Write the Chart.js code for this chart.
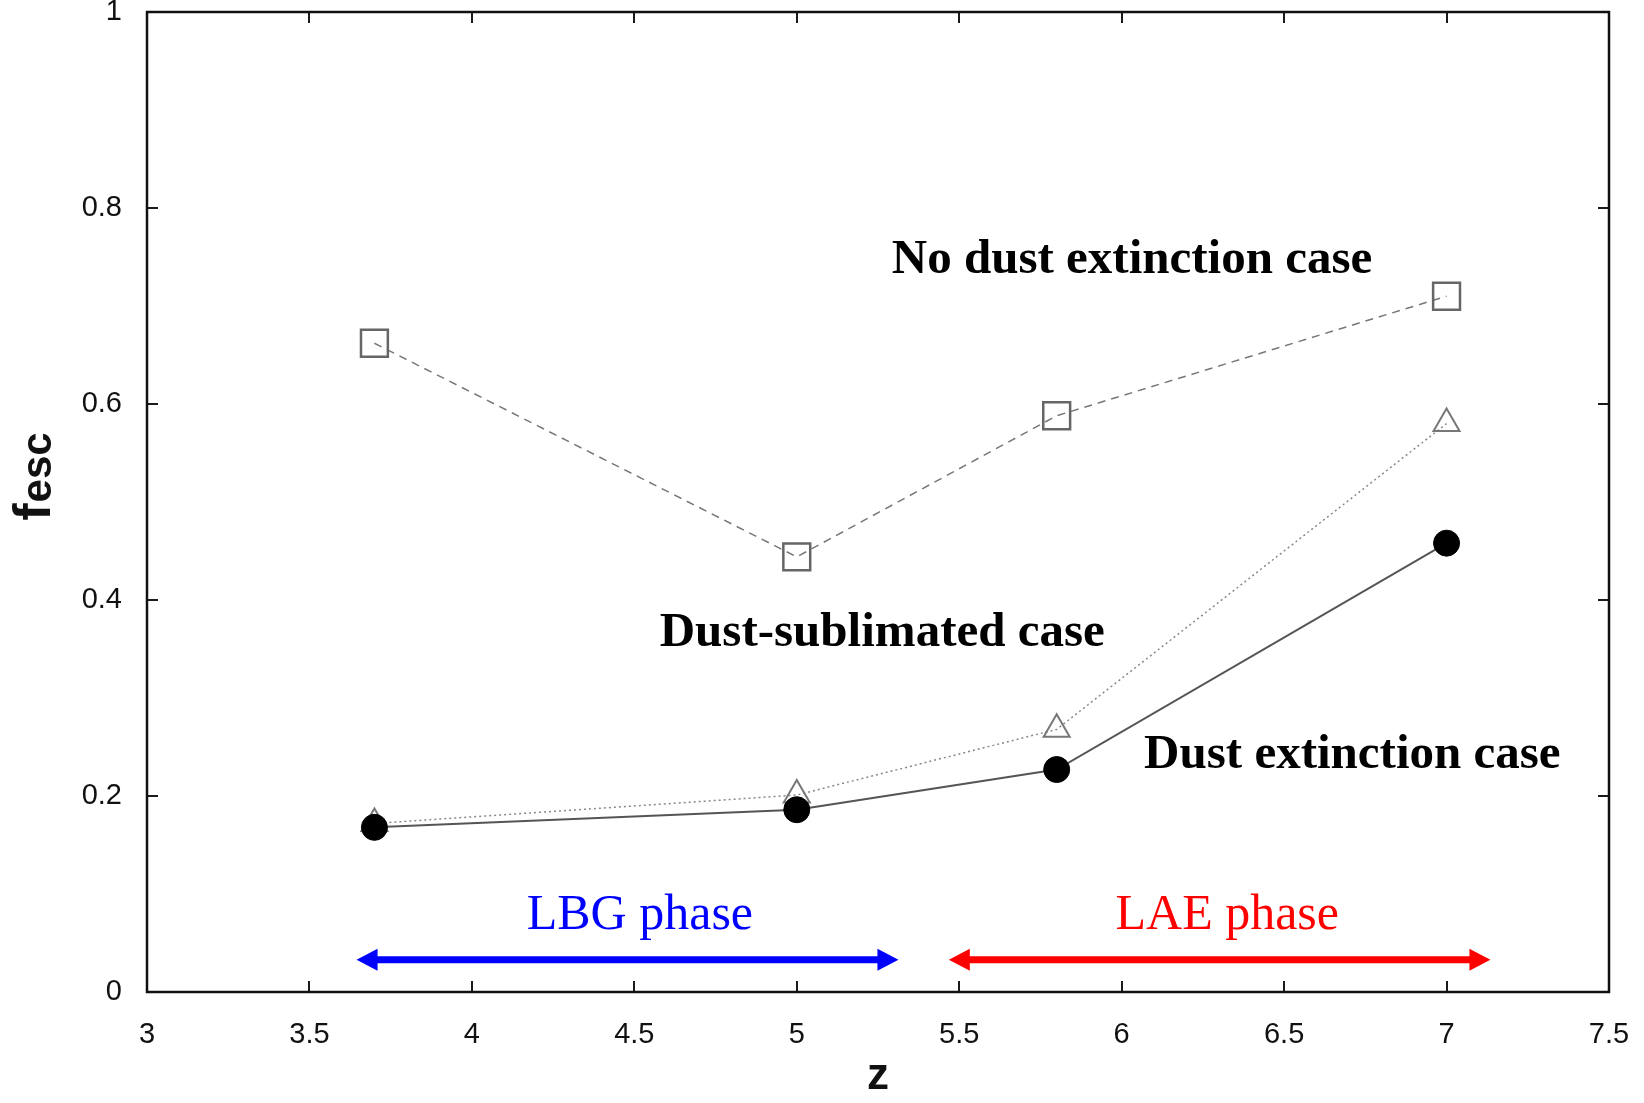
<!DOCTYPE html>
<html>
<head>
<meta charset="utf-8">
<script src="https://cdn.jsdelivr.net/npm/chart.js@4"></script>
<style>
  body { margin: 0; background: #fff; }
  canvas { display: block; }
</style>
</head>
<body>
<canvas id="fescChart" width="1644" height="1103"></canvas>
<script>
// redshift of each snapshot
var zValues = [3.7, 5.0, 5.8, 7.0];
// escape fraction per case
var noDustCase = [0.662, 0.444, 0.588, 0.710];
var sublimatedCase = [0.172, 0.201, 0.268, 0.580];
var dustExtCase = [0.168, 0.186, 0.227, 0.458];

var xTicks = [3, 3.5, 4, 4.5, 5, 5.5, 6, 6.5, 7, 7.5];
var yTicks = [0, 0.2, 0.4, 0.6, 0.8, 1];

// phase arrows (z range)
var phaseNames = ['LBG phase', 'LAE phase'];
var phaseStart = [3.645, 5.468];
var phaseEnd = [5.313, 7.135];

function toPoints(ys) {
    return zValues.map(function(z, i) {
        return { x: z, y: ys[i] };
    });
}

var labelNotes = [
    { text: 'No dust extinction case', x: 6.032, y: 0.734 },
    { text: 'Dust-sublimated case', x: 5.263, y: 0.353 },
    { text: 'Dust extinction case', x: 6.71, y: 0.229 }
];
var phaseLabelX = [4.517, 6.325];
var phaseColors = ['#0000ff', '#ff0000'];

var framePlugin = {
    id: 'frame',
    afterDatasetsDraw: function(chart) {
        var c = chart.ctx, a = chart.chartArea;
        var xs = chart.scales.x, ys = chart.scales.y;
        c.save();
        c.strokeStyle = '#1a1a1a';
        c.lineWidth = 2;
        var tl = 11;
        xTicks.forEach(function(v) {
            var px = Math.round(xs.getPixelForValue(v));
            c.beginPath();
            c.moveTo(px, a.bottom); c.lineTo(px, a.bottom - tl);
            c.moveTo(px, a.top); c.lineTo(px, a.top + tl);
            c.stroke();
        });
        yTicks.forEach(function(v) {
            var py = Math.round(ys.getPixelForValue(v));
            c.beginPath();
            c.moveTo(a.left, py); c.lineTo(a.left + tl, py);
            c.moveTo(a.right, py); c.lineTo(a.right - tl, py);
            c.stroke();
        });
        c.lineWidth = 2.5;
        c.strokeStyle = '#111';
        c.strokeRect(a.left, a.top, a.right - a.left, a.bottom - a.top);

        // annotations
        c.textAlign = 'center';
        c.textBaseline = 'alphabetic';
        c.fillStyle = '#000';
        c.font = 'bold 49px "Liberation Serif"';
        labelNotes.forEach(function(n) {
            c.fillText(n.text, xs.getPixelForValue(n.x), ys.getPixelForValue(n.y));
        });

        // phase arrows
        var ay = ys.getPixelForValue(0.033);
        phaseNames.forEach(function(name, i) {
            var x0 = xs.getPixelForValue(phaseStart[i]);
            var x1 = xs.getPixelForValue(phaseEnd[i]);
            var hl = 21, hw = 11;
            c.fillStyle = phaseColors[i];
            c.strokeStyle = phaseColors[i];
            c.lineWidth = 7;
            c.beginPath();
            c.moveTo(x0 + hl - 2, ay); c.lineTo(x1 - hl + 2, ay);
            c.stroke();
            c.beginPath();
            c.moveTo(x0, ay); c.lineTo(x0 + hl, ay - hw); c.lineTo(x0 + hl, ay + hw); c.closePath();
            c.fill();
            c.beginPath();
            c.moveTo(x1, ay); c.lineTo(x1 - hl, ay - hw); c.lineTo(x1 - hl, ay + hw); c.closePath();
            c.fill();
            c.font = '50px "Liberation Serif"';
            c.fillText(name, xs.getPixelForValue(phaseLabelX[i]), ys.getPixelForValue(0.0643));
        });

        // y axis title: f_esc
        c.translate(36, 477);
        c.rotate(-Math.PI / 2);
        c.fillStyle = '#111';
        c.textBaseline = 'middle';
        c.textAlign = 'left';
        c.font = 'bold 52px "Liberation Sans"';
        var fw = c.measureText('f').width;
        c.font = 'bold 42px "Liberation Sans"';
        var ew = c.measureText('esc').width;
        var start = -(fw + ew) / 2;
        c.font = 'bold 52px "Liberation Sans"';
        c.fillText('f', start, 0);
        c.font = 'bold 42px "Liberation Sans"';
        c.fillText('esc', start + fw + 1, 3);
        c.restore();
    }
};

function plainLabel(v) {
    return String(Math.round(v * 10) / 10);
}

var ctx = document.getElementById('fescChart').getContext('2d');
var config = {
    type: 'line',
    data: {
        datasets: [{
            label: 'Dust extinction case',
            data: toPoints(dustExtCase),
            borderColor: '#555',
            borderWidth: 2,
            pointStyle: 'circle',
            pointRadius: 13,
            pointBackgroundColor: '#000',
            pointBorderColor: '#000',
            pointBorderWidth: 1
        }, {
            label: 'Dust-sublimated case',
            data: toPoints(sublimatedCase),
            borderColor: '#888',
            borderWidth: 1.5,
            borderDash: [2, 3],
            pointStyle: 'triangle',
            pointRadius: 15,
            pointBackgroundColor: 'rgba(255,255,255,0)',
            pointBorderColor: '#777',
            pointBorderWidth: 2
        }, {
            label: 'No dust extinction case',
            data: toPoints(noDustCase),
            borderColor: '#777',
            borderWidth: 1.5,
            borderDash: [8, 6],
            pointStyle: 'rect',
            pointRadius: 19,
            pointBackgroundColor: 'rgba(255,255,255,0)',
            pointBorderColor: '#666',
            pointBorderWidth: 2.5
        }]
    },
    options: {
        responsive: false,
        animation: false,
        devicePixelRatio: 1,
        layout: { autoPadding: false, padding: { top: 12, right: 35, left: 0, bottom: 0 } },
        plugins: {
            legend: { display: false },
            tooltip: { enabled: false }
        },
        scales: {
            x: {
                type: 'linear',
                min: 3,
                max: 7.5,
                afterFit: function(s) {
                    s.height = 111;
                    s.paddingLeft = 0;
                    s.paddingRight = 0;
                },
                afterBuildTicks: function(s) { s.ticks = xTicks.map(function(v) { return { value: v }; }); },
                grid: { display: false },
                border: { display: false },
                ticks: {
                    color: '#111',
                    font: { family: 'Liberation Sans', size: 29 },
                    padding: 18,
                    maxRotation: 0,
                    callback: plainLabel
                },
                title: {
                    display: true,
                    text: 'z',
                    color: '#111',
                    font: { family: 'Liberation Sans', size: 44, weight: 'bold' },
                    padding: { top: 0, bottom: 0 }
                }
            },
            y: {
                type: 'linear',
                min: 0,
                max: 1,
                afterFit: function(s) {
                    s.width = 147;
                    s.paddingTop = 0;
                    s.paddingBottom = 0;
                },
                afterBuildTicks: function(s) { s.ticks = yTicks.map(function(v) { return { value: v }; }); },
                grid: { display: false },
                border: { display: false },
                ticks: {
                    color: '#111',
                    font: { family: 'Liberation Sans', size: 29 },
                    padding: 17,
                    callback: plainLabel
                }
            }
        }
    },
    plugins: [framePlugin]
};

var chart = new Chart(ctx, config);
</script>
</body>
</html>
